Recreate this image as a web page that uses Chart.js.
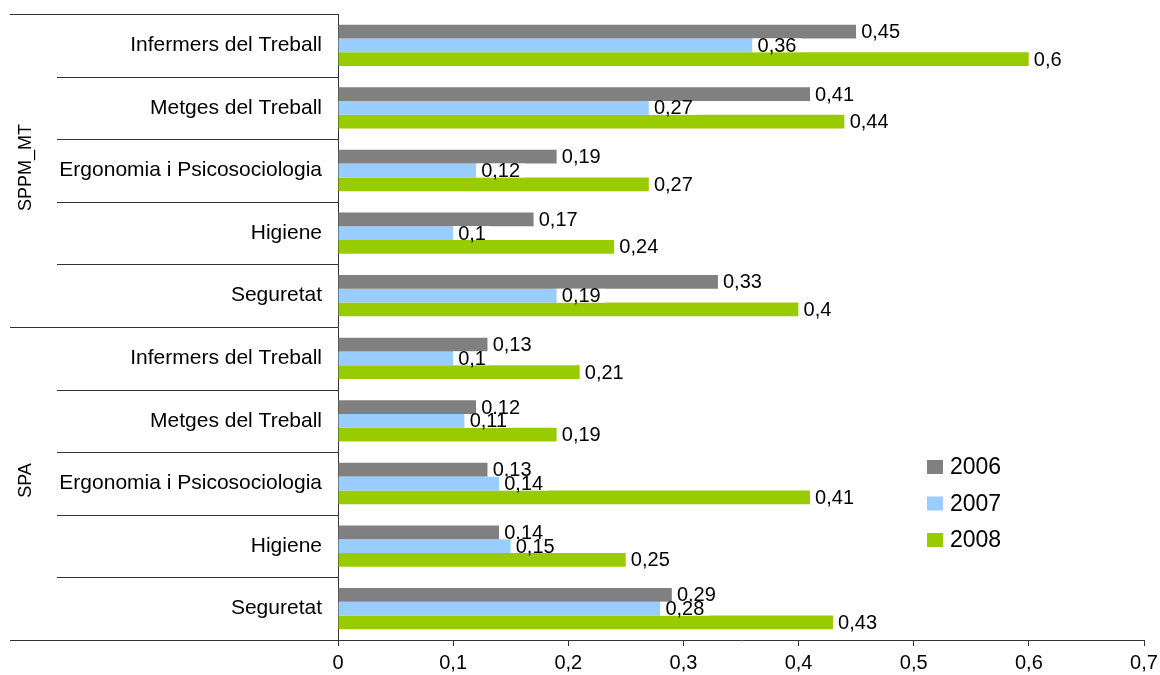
<!DOCTYPE html>
<html lang="ca">
<head>
<meta charset="UTF-8">
<title>SPPM_MT / SPA</title>
<script src="https://cdn.jsdelivr.net/npm/chart.js@4.4.0/dist/chart.umd.min.js"></script>
<style>
    body { margin: 0; background: #fff; }
    .wrap { width: 1160px; height: 675px; position: relative; }
</style>
</head>
<body>
<div class="wrap"><canvas id="chart"></canvas></div>
<script>
    // categories, top to bottom
    const categories = [
        "Infermers del Treball", "Metges del Treball", "Ergonomia i Psicosociologia", "Higiene", "Seguretat",
        "Infermers del Treball", "Metges del Treball", "Ergonomia i Psicosociologia", "Higiene", "Seguretat"
    ];
    const groups = ["SPPM_MT", "SPA"];
    const groupSize = 5;
    const years = ["2006", "2007", "2008"];
    const values2006 = [0.45, 0.41, 0.19, 0.17, 0.33, 0.13, 0.12, 0.13, 0.14, 0.29];
    const values2007 = [0.36, 0.27, 0.12, 0.10, 0.19, 0.10, 0.11, 0.14, 0.15, 0.28];
    const values2008 = [0.60, 0.44, 0.27, 0.24, 0.40, 0.21, 0.19, 0.41, 0.25, 0.43];
    const colors = ["#808080", "#99ccff", "#99cc00"];

    const FONT = "'Liberation Sans', Arial, sans-serif";
    const comma = v => String(Math.round(v * 100) / 100).replace(".", ",");

    const barLabels = {
        id: "barLabels",
        afterDatasetsDraw(chart) {
            const ctx = chart.ctx;
            ctx.save();
            ctx.font = "20px " + FONT;
            ctx.textBaseline = "middle";
            chart.data.datasets.forEach((ds, di) => {
                chart.getDatasetMeta(di).data.forEach((bar, i) => {
                    const txt = comma(ds.data[i]);
                    const w = ctx.measureText(txt).width;
                    ctx.fillStyle = "#fff";
                    ctx.fillRect(bar.x, bar.y - bar.height / 2, w + 10, bar.height);
                    ctx.fillStyle = "#000";
                    ctx.fillText(txt, bar.x + 5, bar.y + 1);
                });
            });
            ctx.restore();
        }
    };

    const groupAxis = {
        id: "groupAxis",
        afterDraw(chart) {
            const ctx = chart.ctx;
            const area = chart.chartArea;
            const n = categories.length;
            const step = (area.bottom - area.top) / n;
            ctx.save();
            ctx.strokeStyle = "#333";
            ctx.lineWidth = 1;
            for (let i = 0; i <= n; i++) {
                const y = Math.round(area.top + i * step) + 0.5;
                const x0 = (i % groupSize === 0) ? 10 : 57;
                ctx.beginPath();
                ctx.moveTo(x0, y);
                ctx.lineTo(area.left, y);
                ctx.stroke();
            }
            ctx.fillStyle = "#000";
            ctx.font = "18px " + FONT;
            ctx.textAlign = "center";
            ctx.textBaseline = "middle";
            groups.forEach((g, gi) => {
                const yc = area.top + (gi + 0.5) * groupSize * step - 3;
                ctx.save();
                ctx.translate(26, yc);
                ctx.rotate(-Math.PI / 2);
                ctx.fillText(g, 0, 0);
                ctx.restore();
            });
            // legend
            ctx.textAlign = "left";
            ctx.font = "23px " + FONT;
            chart.data.datasets.forEach((ds, i) => {
                const y = 467 + i * 36.5;
                ctx.fillStyle = ds.backgroundColor;
                ctx.fillRect(927, y - 7, 16, 14);
                ctx.fillStyle = "#000";
                ctx.fillText(ds.label, 950, y + 1);
            });
            ctx.restore();
        }
    };

    new Chart(document.getElementById("chart"), {
        type: "bar",
        data: {
            labels: categories,
            datasets: [values2006, values2007, values2008].map((d, i) => ({
                label: years[i],
                data: d,
                backgroundColor: colors[i],
                borderWidth: 0,
                barPercentage: 1,
                categoryPercentage: 0.66
            }))
        },
        options: {
            indexAxis: "y",
            responsive: true,
            maintainAspectRatio: false,
            animation: false,
            layout: { padding: { left: 0, right: 16, top: 14, bottom: 0 } },
            plugins: {
                legend: { display: false },
                tooltip: { enabled: false }
            },
            scales: {
                x: {
                    min: 0,
                    max: 0.7,
                    ticks: {
                        stepSize: 0.1,
                        color: "#000",
                        font: { family: FONT, size: 20 },
                        padding: 5,
                        callback: v => comma(v)
                    },
                    grid: { drawOnChartArea: false, drawTicks: true, tickLength: 6, color: "#333" },
                    border: { color: "#333" },
                    afterFit: s => { s.height = 35; s.paddingLeft = 0; s.paddingRight = 0; }
                },
                y: {
                    ticks: {
                        color: "#000",
                        font: { family: FONT, size: 21 },
                        padding: 16
                    },
                    grid: { display: false, drawTicks: false },
                    border: { color: "#333" },
                    afterFit: s => { s.width = 338; s.paddingTop = 0; s.paddingBottom = 0; }
                }
            }
        },
        plugins: [barLabels, groupAxis]
    });
</script>
</body>
</html>
